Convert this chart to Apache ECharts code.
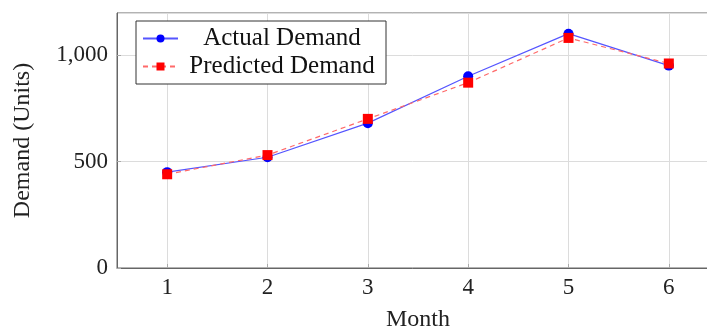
<!DOCTYPE html>
<html><head><meta charset="utf-8">
<script src="https://cdn.jsdelivr.net/npm/echarts@6/dist/echarts.min.js"></script>
<style>html,body{margin:0;padding:0;background:#fff}#c{width:707px;height:332px}</style>
</head><body><div id="c"></div>
<script>
const months = ['1', '2', '3', '4', '5', '6'];
const actualDemand = [450, 520, 680, 900, 1100, 950];
const predictedDemand = [440, 530, 700, 870, 1080, 960];
const seriesNames = ['Actual Demand', 'Predicted Demand'];
// half-month slots so the axis runs from 0.5 to 6.5 with gridlines on whole months
const xSlots = ['0.5', '1', '1.5', '2', '2.5', '3', '3.5', '4', '4.5', '5', '5.5', '6', '6.5'];

const FONT = '"Liberation Serif", "DejaVu Serif", serif';
const chart = echarts.init(document.getElementById('c'), null, {renderer: 'canvas'});
chart.setOption({
  animation: false,
  backgroundColor: '#fff',
  grid: {left: 117, top: 13, right: -12, bottom: 64, show: true, borderColor: '#666', borderWidth: 1,
         containLabel: false, outerBoundsMode: 'none'},
  legend: {
    left: 136, top: 21, orient: 'vertical',
    padding: [5, 5, 5, 6], borderColor: '#333', borderWidth: 1, backgroundColor: '#fff',
    itemWidth: 35, itemHeight: 10, itemGap: 3, itemTextGap: 5,
    data: seriesNames,
    formatter: n => '{c|' + n + '}',
    textStyle: {rich: {c: {width: 198, align: 'center', fontFamily: FONT, fontSize: 25, lineHeight: 26, color: '#111'}}}
  },
  xAxis: {
    type: 'category', data: xSlots, boundaryGap: false,
    name: 'Month', nameLocation: 'middle', nameGap: 40,
    nameTextStyle: {fontFamily: FONT, fontSize: 24, color: '#222'},
    axisLine: {show: true, lineStyle: {color: '#666', width: 1}},
    axisTick: {show: true, inside: true, length: 4, interval: (i, v) => months.includes(v), lineStyle: {color: '#aaa'}},
    axisLabel: {fontFamily: FONT, fontSize: 23, color: '#222', margin: 8,
      interval: (i, v) => months.includes(v)},
    splitLine: {show: true, interval: (i, v) => months.includes(v), lineStyle: {color: '#dcdcdc', width: 1}}
  },
  yAxis: {
    type: 'value', min: 0, max: 1197, interval: 500,
    name: 'Demand (Units)', nameLocation: 'middle', nameGap: 82,
    nameTextStyle: {fontFamily: FONT, fontSize: 24, color: '#222'},
    axisLine: {show: true, lineStyle: {color: '#666', width: 1}},
    axisTick: {show: true, inside: true, length: 4, lineStyle: {color: '#aaa'}},
    axisLabel: {fontFamily: FONT, fontSize: 23, color: '#222', margin: 9, showMaxLabel: false,
      formatter: v => (v % 500 === 0) ? v.toLocaleString('en-US') : ''},
    splitLine: {show: true, lineStyle: {color: '#dcdcdc', width: 1}}
  },
  series: [
    {name: seriesNames[0], type: 'line', data: months.map((m, i) => [m, actualDemand[i]]),
     symbol: 'circle', symbolSize: 10, itemStyle: {color: '#0000ff'},
     lineStyle: {color: '#5555ff', width: 1.2}, z: 2},
    {name: seriesNames[1], type: 'line', data: months.map((m, i) => [m, predictedDemand[i]]),
     symbol: 'rect', symbolSize: 10, itemStyle: {color: '#ff0000'},
     lineStyle: {color: '#ff6a6a', width: 1.2, type: [5, 4]}, z: 3}
  ]
});
</script></body></html>
